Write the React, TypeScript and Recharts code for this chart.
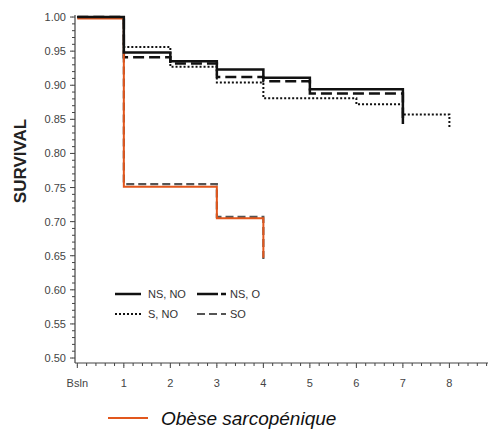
import React from 'react';
import { LineChart, Line, XAxis, YAxis, Legend } from 'recharts';

// Kaplan-Meier style survival steps (time in years, survival)
const nsNoTimes = [0, 1, 2, 3, 4, 5, 7];
const nsNoSurv = [1.0, 0.948, 0.935, 0.923, 0.911, 0.894, 0.843];

const nsOTimes = [0, 1, 2, 3, 4, 5, 7];
const nsOSurv = [1.0, 0.941, 0.932, 0.912, 0.906, 0.888, 0.852];

const sNoTimes = [0, 1, 2, 3, 4, 6, 7, 8];
const sNoSurv = [1.0, 0.956, 0.927, 0.904, 0.881, 0.872, 0.857, 0.837];

const soTimes = [0, 1, 3, 4];
const soSurv = [1.0, 0.755, 0.707, 0.641];

const obeseTimes = [0, 1, 3, 4];
const obeseSurv = [0.998, 0.751, 0.705, 0.647];

const xTickLabels = ['Bsln', '1', '2', '3', '4', '5', '6', '7', '8'];
const yMajorLabels = ['0.50', '0.55', '0.60', '0.65', '0.70', '0.75', '0.80', '0.85', '0.90', '0.95', '1.00'];

const legendInPlot = [
  { label: 'NS, NO', color: '#111', dash: undefined, width: 2.5 },
  { label: 'NS, O', color: '#111', dash: '21 3 6 20', width: 2.5 },
  { label: 'S, NO', color: '#111', dash: '2 2', width: 2 },
  { label: 'SO', color: '#555', dash: '8 4', width: 2.2 },
];
const bottomLegendLabel = 'Obèse sarcopénique';

const FONT = '"Liberation Sans", Arial, Helvetica, sans-serif';
const ORANGE = '#e2571d';

const build = (t: number[], s: number[]) => t.map((v, i) => ({ t: v, s: s[i] }));

const xTicks: number[] = [];
for (let i = 0; i <= 44; i++) xTicks.push(i / 5);
const yTicks: number[] = [];
for (let i = 50; i <= 100; i++) yTicks.push(i / 100);

const XTick = (props: any) => {
  const { x, y, payload } = props;
  const v = payload.value as number;
  const isMajor = Math.abs(v - Math.round(v)) < 1e-6;
  if (!isMajor) return <g />;
  const idx = Math.round(v);
  return (
    <g>
      <line x1={x} x2={x} y1={y - 0.5} y2={y + 2} stroke="#444" strokeWidth={1} />
      <text x={x} y={y + 21} textAnchor="middle" fontSize={11} fill="#444" fontFamily={FONT}>
        {xTickLabels[idx]}
      </text>
    </g>
  );
};

const YTick = (props: any) => {
  const { x, y, payload } = props;
  const v = payload.value as number;
  const hundred = Math.round(v * 100);
  if (hundred % 5 !== 0) return <g />;
  return (
    <g>
      <line x1={x - 2} x2={x + 0.5} y1={y} y2={y} stroke="#444" strokeWidth={1} />
      <text x={x - 6} y={y + 4} textAnchor="end" fontSize={11} fill="#444" fontFamily={FONT}>
        {yMajorLabels[(hundred - 50) / 5]}
      </text>
    </g>
  );
};

const Overlay = () => (
  <svg width={493} height={430} style={{ display: 'block' }}>
    <text
      x={20}
      y={161}
      transform="rotate(-90, 20, 161)"
      textAnchor="middle"
      dominantBaseline="central"
      fontSize={17}
      fontWeight="bold"
      fill="#222"
      fontFamily={FONT}
    >
      SURVIVAL
    </text>
    {legendInPlot.map((item, i) => {
      const col = i % 2;
      const row = Math.floor(i / 2);
      const lx = col === 0 ? 115 : 197;
      const ly = row === 0 ? 294 : 314;
      const len = col === 0 ? 26 : 29;
      return (
        <g key={item.label}>
          <line
            x1={lx}
            x2={lx + len}
            y1={ly}
            y2={ly}
            stroke={item.color}
            strokeWidth={item.width}
            strokeDasharray={item.dash}
          />
          <text x={col === 0 ? 148 : 230} y={ly + 4} fontSize={11} fill="#333" fontFamily={FONT}>
            {item.label}
          </text>
        </g>
      );
    })}
    <line x1={108} x2={148} y1={418} y2={418} stroke={ORANGE} strokeWidth={2} />
    <text x={161} y={425} fontSize={19} fontStyle="italic" fill="#111" fontFamily={FONT}>
      {bottomLegendLabel}
    </text>
  </svg>
);

export default function App() {
  return (
    <div style={{ position: 'absolute', left: 0, top: 0, width: 493, height: 430, background: '#fff' }}>
      <LineChart width={493} height={430} margin={{ top: 15, right: 5, bottom: 37, left: 0 }}>
        <XAxis
          dataKey="t"
          type="number"
          domain={[-0.05, 8.83]}
          ticks={xTicks}
          interval={0}
          tick={<XTick />}
          tickLine={{ stroke: '#444', strokeWidth: 1 }}
          tickSize={3}
          tickMargin={0}
          height={30}
          allowDataOverflow
          axisLine={{ stroke: '#444', strokeWidth: 1.2 }}
        />
        <YAxis
          type="number"
          domain={[0.4927, 1.003]}
          ticks={yTicks}
          interval={0}
          tick={<YTick />}
          tickLine={{ stroke: '#444', strokeWidth: 1 }}
          tickSize={3}
          tickMargin={0}
          width={75}
          allowDataOverflow
          axisLine={{ stroke: '#444', strokeWidth: 1.2 }}
        />
        <Legend
          layout="horizontal"
          verticalAlign="middle"
          align="center"
          wrapperStyle={{ left: 0, top: 0, width: 493, height: 430, pointerEvents: 'none' }}
          content={() => <Overlay />}
        />
        <Line
          data={build(soTimes, soSurv)}
          dataKey="s"
          type="stepAfter"
          stroke="#555"
          strokeWidth={2.2}
          strokeDasharray="8 4"
          dot={false}
          isAnimationActive={false}
          name="SO"
        />
        <Line
          data={build(sNoTimes, sNoSurv)}
          dataKey="s"
          type="stepAfter"
          stroke="#111"
          strokeWidth={2}
          strokeDasharray="2 2"
          dot={false}
          isAnimationActive={false}
          name="S, NO"
        />
        <Line
          data={build(nsOTimes, nsOSurv)}
          dataKey="s"
          type="stepAfter"
          stroke="#111"
          strokeWidth={2.5}
          strokeDasharray="11 5"
          dot={false}
          isAnimationActive={false}
          name="NS, O"
        />
        <Line
          data={build(obeseTimes, obeseSurv)}
          dataKey="s"
          type="stepAfter"
          stroke={ORANGE}
          strokeWidth={2}
          dot={false}
          isAnimationActive={false}
          name="Obèse sarcopénique"
        />
        <Line
          data={build(nsNoTimes, nsNoSurv)}
          dataKey="s"
          type="stepAfter"
          stroke="#111"
          strokeWidth={2.5}
          dot={false}
          isAnimationActive={false}
          name="NS, NO"
        />
      </LineChart>
    </div>
  );
}
